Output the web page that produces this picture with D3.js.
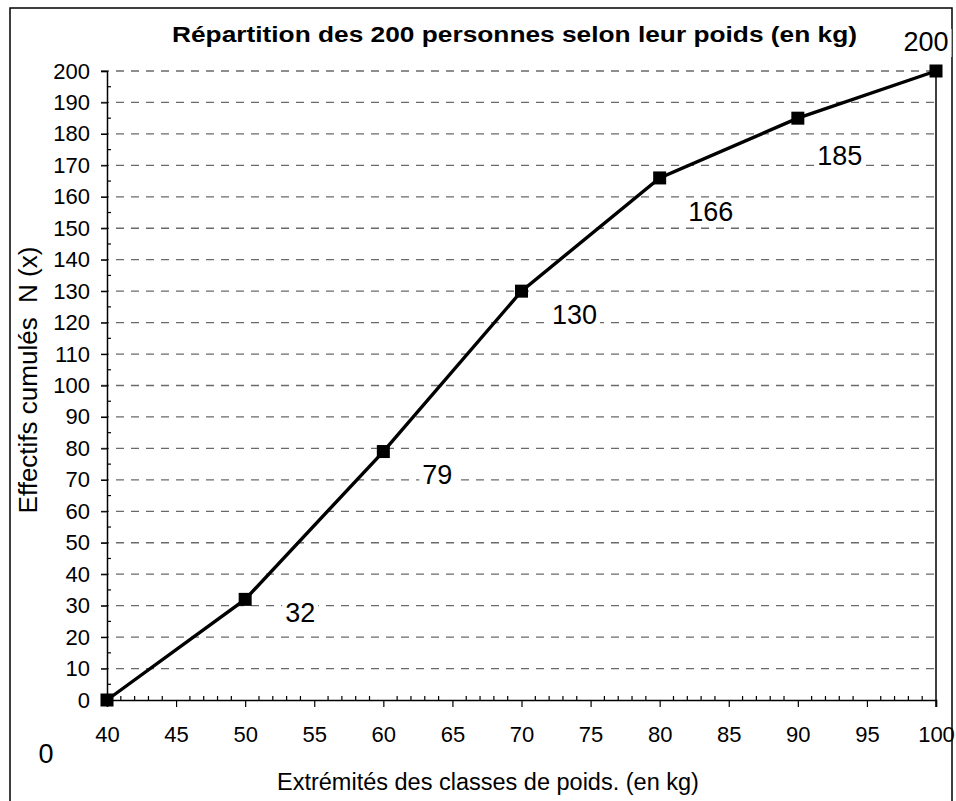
<!DOCTYPE html>
<html>
<head>
<meta charset="utf-8">
<script src="https://cdn.jsdelivr.net/npm/d3@7"></script>
<style>
  html, body { margin: 0; padding: 0; background: #fff; }
  svg { display: block; font-family: "Liberation Sans", Arial, sans-serif; }
</style>
</head>
<body>
<script>
// ---- data ----
const weights = [40, 50, 60, 70, 80, 90, 100];
const cumulative = [0, 32, 79, 130, 166, 185, 200];
const yTicks = d3.range(0, 201, 10);
const xTicks = d3.range(40, 101, 5);
const title = "Répartition des 200 personnes selon leur poids (en kg)";
const xTitle = "Extrémités des classes de poids. (en kg)";
const yTitle = "Effectifs cumulés  N (x)";

// label placement offsets (pixels, relative to point)
const labelOffsets = [[-61, 63], [55, 23], [54, 32], [53, 33], [51, 43], [42, 47], [-10, -20]];

const W = 956, H = 801;
const svg = d3.select("body").append("svg").attr("width", W).attr("height", H);

// outer frame
svg.append("rect").attr("x", 10).attr("y", 8).attr("width", 942).attr("height", H + 20)
  .attr("fill", "none").attr("stroke", "#000").attr("stroke-width", 1.5);

const x = d3.scaleLinear().domain([40, 100]).range([107, 936]);
const y = d3.scaleLinear().domain([0, 200]).range([700, 71]);

// gridlines
svg.append("g").selectAll("line").data(yTicks.filter(d => d > 0)).join("line")
  .attr("x1", 101).attr("x2", x(100))
  .attr("y1", d => y(d)).attr("y2", d => y(d))
  .attr("stroke", "#6a6a6a").attr("stroke-width", 1.3).attr("stroke-dasharray", "8,7");

// y axis
const yAxis = svg.append("g").attr("transform", `translate(${x(40)},0)`)
  .call(d3.axisLeft(y).tickValues(yTicks).tickSize(6).tickPadding(11).tickFormat(d3.format("d")));
yAxis.select(".domain").attr("stroke", "#000").attr("stroke-width", 1.5);
yAxis.selectAll(".tick line").attr("stroke", "#000").attr("stroke-width", 1.2);
yAxis.selectAll("text").attr("font-size", 22).attr("fill", "#000")
  .attr("font-family", "Liberation Sans, Arial, sans-serif");
// y minor ticks (inside)
svg.append("g").selectAll("line").data(d3.range(5, 200, 10)).join("line")
  .attr("x1", x(40)).attr("x2", x(40) + 4)
  .attr("y1", d => y(d)).attr("y2", d => y(d))
  .attr("stroke", "#000").attr("stroke-width", 1.2);

// x axis
const xAxis = svg.append("g").attr("transform", `translate(0,${y(0)})`)
  .call(d3.axisBottom(x).tickValues(xTicks).tickSize(7).tickPadding(19).tickFormat(d3.format("d")));
xAxis.select(".domain").attr("stroke", "#000").attr("stroke-width", 1.5);
xAxis.selectAll(".tick line").attr("stroke", "#000").attr("stroke-width", 1.2);
xAxis.selectAll("text").attr("font-size", 22).attr("fill", "#000")
  .attr("font-family", "Liberation Sans, Arial, sans-serif");
// x minor ticks (inside)
svg.append("g").selectAll("line").data(d3.range(41, 100, 1).filter(d => d % 5 !== 0)).join("line")
  .attr("x1", d => x(d)).attr("x2", d => x(d))
  .attr("y1", y(0)).attr("y2", y(0) - 4)
  .attr("stroke", "#000").attr("stroke-width", 1.2);

// right side line
svg.append("line").attr("x1", x(100)).attr("x2", x(100)).attr("y1", y(200)).attr("y2", y(0) + 7)
  .attr("stroke", "#000").attr("stroke-width", 1.5);

// series line
const pts = weights.map((w, i) => [w, cumulative[i]]);
svg.append("path").datum(pts)
  .attr("d", d3.line().x(d => x(d[0])).y(d => y(d[1])))
  .attr("fill", "none").attr("stroke", "#000").attr("stroke-width", 3.4);

// markers
const ms = 13;
svg.append("g").selectAll("rect").data(pts).join("rect")
  .attr("x", d => x(d[0]) - ms / 2).attr("y", d => y(d[1]) - ms / 2)
  .attr("width", ms).attr("height", ms).attr("fill", "#000");

// data labels
const lab = svg.append("g");
pts.forEach((d, i) => {
  const cx = x(d[0]) + labelOffsets[i][0];
  const by = y(d[1]) + labelOffsets[i][1];
  const t = lab.append("text").attr("x", cx).attr("y", by)
    .attr("text-anchor", "middle").attr("font-size", 27).attr("fill", "#000")
    .text(d[1]);
  const bb = t.node().getBBox();
  lab.insert("rect", () => t.node())
    .attr("x", bb.x - 3).attr("y", bb.y + 2).attr("width", bb.width + 6).attr("height", bb.height - 2)
    .attr("fill", "#fff");
});

// titles
svg.append("text").attr("x", 172).attr("y", 42)
  .attr("font-size", 22).attr("font-weight", "bold")
  .attr("textLength", 685).attr("lengthAdjust", "spacingAndGlyphs").text(title);
svg.append("text").attr("x", 277).attr("y", 790)
  .attr("font-size", 23.5).text(xTitle);
svg.append("text").attr("transform", "translate(37,380) rotate(-90)").attr("text-anchor", "middle")
  .attr("font-size", 26).style("white-space", "pre").text(yTitle);
</script>
</body>
</html>
